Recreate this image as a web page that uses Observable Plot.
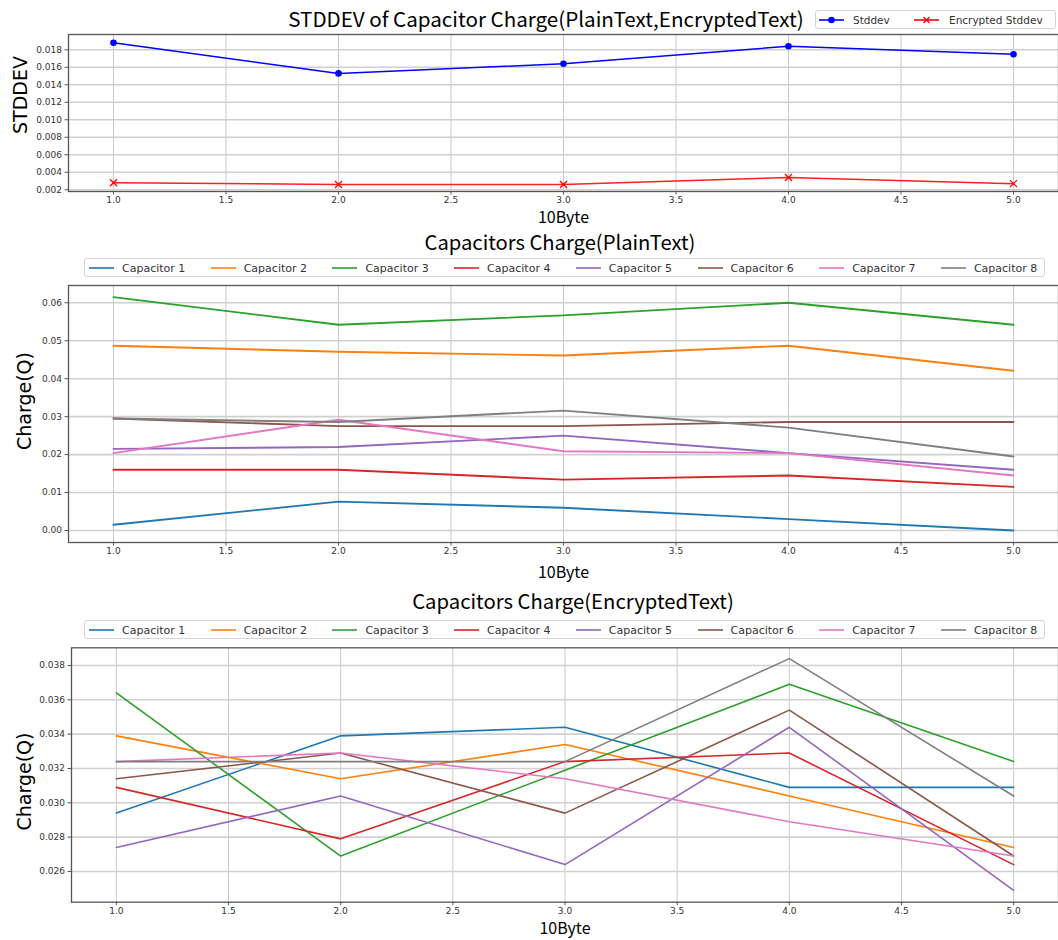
<!DOCTYPE html>
<html><head><meta charset="utf-8">
<script src="https://cdn.jsdelivr.net/npm/d3@7"></script>
<script src="https://cdn.jsdelivr.net/npm/@observablehq/plot@0.6"></script>
<style>
body{margin:0;background:#fff;}
#c{position:relative;width:1058px;height:940px;overflow:hidden;font-family:"DejaVu Sans",sans-serif;background:#fff;}
.t{position:absolute;font-family:"Noto Sans CJK KR","Noto Sans",sans-serif;font-size:20px;transform:translate(-50%,-50%);white-space:nowrap;color:#000;line-height:1;}
.lg{position:absolute;border:1px solid #d4d4d4;border-radius:3px;background:#fff;box-sizing:border-box;}
.it{position:absolute;top:50%;transform:translateY(-50%);font-size:11px;color:#333;white-space:nowrap;line-height:1;}
.sw{position:absolute;top:50%;transform:translateY(-50%);line-height:0;}
.p{position:absolute;left:0;}
</style></head>
<body><div id="c"></div>
<script>
// ---- data ----
const bytes = [1, 2, 3, 4, 5];
const xTicks = [1, 1.5, 2, 2.5, 3, 3.5, 4, 4.5, 5];

const stddev    = [0.0188, 0.0153, 0.0164, 0.0184, 0.0175];
const encStddev = [0.0028, 0.0026, 0.0026, 0.0034, 0.0027];
const stdTicks  = [0.002, 0.004, 0.006, 0.008, 0.010, 0.012, 0.014, 0.016, 0.018];

const capNames  = ["Capacitor 1","Capacitor 2","Capacitor 3","Capacitor 4","Capacitor 5","Capacitor 6","Capacitor 7","Capacitor 8"];
const capColors = ["#1f77b4","#ff7f0e","#2ca02c","#d62728","#9467bd","#8c564b","#e377c2","#7f7f7f"];

const plain1 = [0.0015, 0.0076, 0.0060, 0.0030, 0.0000];
const plain2 = [0.0487, 0.0471, 0.0461, 0.0487, 0.0421];
const plain3 = [0.0615, 0.0542, 0.0567, 0.0600, 0.0542];
const plain4 = [0.0160, 0.0160, 0.0134, 0.0145, 0.0115];
const plain5 = [0.0215, 0.0220, 0.0250, 0.0204, 0.0160];
const plain6 = [0.0295, 0.0275, 0.0275, 0.0286, 0.0286];
const plain7 = [0.0204, 0.0292, 0.0209, 0.0204, 0.0145];
const plain8 = [0.0295, 0.0286, 0.0316, 0.0271, 0.0195];
const plainTicks = [0.00, 0.01, 0.02, 0.03, 0.04, 0.05, 0.06];

const enc1 = [0.0294, 0.0339, 0.0344, 0.0309, 0.0309];
const enc2 = [0.0339, 0.0314, 0.0334, 0.0304, 0.0274];
const enc3 = [0.0364, 0.0269, 0.0319, 0.0369, 0.0324];
const enc4 = [0.0309, 0.0279, 0.0324, 0.0329, 0.0264];
const enc5 = [0.0274, 0.0304, 0.0264, 0.0344, 0.0249];
const enc6 = [0.0314, 0.0329, 0.0294, 0.0354, 0.0269];
const enc7 = [0.0324, 0.0329, 0.0314, 0.0289, 0.0269];
const enc8 = [0.0324, 0.0324, 0.0324, 0.0384, 0.0304];
const encTicks = [0.026, 0.028, 0.030, 0.032, 0.034, 0.036, 0.038];

// ---- helpers ----
const c = document.getElementById("c");
const stdRows = bytes.map((b, i) => ({byte: b, sd: stddev[i], enc: encStddev[i]}));
const toRows = (series) => series.flatMap((s, k) => bytes.map((b, i) => ({cap: capNames[k], byte: b, q: s[i]})));
const plainRows = toRows([plain1, plain2, plain3, plain4, plain5, plain6, plain7, plain8]);
const encRows = toRows([enc1, enc2, enc3, enc4, enc5, enc6, enc7, enc8]);

function panel({top, height, mt, mb, ml, yDomain, yTicks, yFmt, marks, ylabel, lx, ly, xlDy}) {
  const svg = Plot.plot({
    width: 1058, height,
    marginTop: mt, marginBottom: mb, marginLeft: ml, marginRight: 0,
    style: {fontFamily: "DejaVu Sans", fontSize: "9px", color: "#333", background: "transparent", overflow: "visible"},
    x: {domain: [0.8, 5.2]},
    y: {domain: yDomain},
    color: {domain: capNames, range: capColors},
    marks: [
      Plot.gridX(xTicks, {stroke: "#c9c9c9", strokeOpacity: 1, strokeWidth: 1}),
      Plot.gridY(yTicks, {stroke: "#d0d0d0", strokeOpacity: 1, strokeWidth: 1.6}),
      ...marks,
      Plot.frame({stroke: "#555", strokeWidth: 1.3}),
      Plot.axisX(xTicks, {tickFormat: d3.format(".1f"), tickSize: 3.5, tickPadding: 2, label: null, fontSize: 9, stroke: "#555"}),
      Plot.axisY(yTicks, {tickFormat: d3.format(yFmt), tickSize: 3.5, tickPadding: 3, label: null, fontSize: 9, stroke: "#555"}),
      Plot.text(["10Byte"], {text: d => d, frameAnchor: "bottom", dy: xlDy, lineAnchor: "middle", textAnchor: "middle", fontFamily: "Noto Sans CJK KR", fontSize: 16, fill: "#000"}),
      Plot.text([ylabel], {text: d => d, frameAnchor: "left", dx: lx, dy: ly, rotate: -90, textAnchor: "middle", lineAnchor: "middle", fontFamily: "DejaVu Sans", fontSize: 19, fill: "#000"})
    ]
  });
  svg.classList.add("p");
  svg.style.top = top + "px";
  c.appendChild(svg);
}

function title(text, x, y, size) {
  const d = document.createElement("div");
  d.className = "t"; d.textContent = text;
  d.style.left = x + "px"; d.style.top = y + "px";
  if (size) d.style.fontSize = size + "px";
  c.appendChild(d);
}

function swatch(color, marker) {
  let m = "";
  if (marker === "circle") m = `<circle cx="12.5" cy="5" r="3.3" fill="${color}"/>`;
  if (marker === "times") m = `<path d="M9.5 2 L15.5 8 M15.5 2 L9.5 8" stroke="${color}" stroke-width="1.3"/>`;
  return `<svg width="25" height="10"><line x1="0" y1="5" x2="25" y2="5" stroke="${color}" stroke-width="1.6"/>${m}</svg>`;
}

function legend(box, items) {
  const b = document.createElement("div");
  b.className = "lg";
  b.style.left = box[0] + "px"; b.style.top = box[1] + "px";
  b.style.width = (box[2] - box[0]) + "px"; b.style.height = (box[3] - box[1]) + "px";
  items.forEach(it => {
    const s = document.createElement("div");
    s.className = "sw"; s.style.left = (it.sx - box[0]) + "px";
    s.innerHTML = swatch(it.color, it.marker);
    b.appendChild(s);
    const t = document.createElement("div");
    t.className = "it"; t.style.left = (it.tx - box[0]) + "px";
    if (it.size) t.style.fontSize = it.size + "px";
    t.textContent = it.label;
    b.appendChild(t);
  });
  c.appendChild(b);
}

// ---- panel 1 ----
panel({
  top: 0, height: 230, mt: 34, mb: 39, ml: 68,
  yDomain: [0.0018, 0.01975], yTicks: stdTicks, yFmt: ".3f",
  ylabel: "STDDEV", lx: -48, ly: -18, xlDy: 26,
  marks: [
    Plot.line(stdRows, {x: "byte", y: "sd", stroke: "#0000ff", strokeWidth: 1.5}),
    Plot.dot(stdRows, {x: "byte", y: "sd", r: 3.3, fill: "#0000ff"}),
    Plot.line(stdRows, {x: "byte", y: "enc", stroke: "#ff2020", strokeWidth: 1.5}),
    Plot.dot(stdRows, {x: "byte", y: "enc", r: 3.3, symbol: "times", stroke: "#ff0000", strokeWidth: 1.3})
  ]
});
title("STDDEV of Capacitor Charge(PlainText,EncryptedText)", 546, 18, 20.6);
legend([815, 10, 1056, 29], [
  {label: "Stddev", color: "#0000ff", marker: "circle", sx: 818, tx: 852, size: 10.5},
  {label: "Encrypted Stddev", color: "#ff0000", marker: "times", sx: 913, tx: 948, size: 10.5}
]);

// ---- panel 2 ----
panel({
  top: 279, height: 300, mt: 6, mb: 37, ml: 68,
  yDomain: [-0.00316, 0.06456], yTicks: plainTicks, yFmt: ".2f",
  ylabel: "Charge(Q)", lx: -44, ly: -13, xlDy: 30,
  marks: [
    Plot.line(plainRows, {x: "byte", y: "q", z: "cap", stroke: "cap", strokeWidth: 1.9})
  ]
});
title("Capacitors Charge(PlainText)", 560, 242, 20.2);
legend([84, 258, 1045, 277], capNames.map((n, i) => ({label: n, color: capColors[i], sx: 88 + i * 121.7, tx: 121 + i * 121.7})));

// ---- panel 3 ----
panel({
  top: 640, height: 300, mt: 7.3, mb: 38.3, ml: 71,
  yDomain: [0.02421, 0.03903], yTicks: encTicks, yFmt: ".3f",
  ylabel: "Charge(Q)", lx: -47, ly: 6.5, xlDy: 26.5,
  marks: [
    Plot.line(encRows, {x: "byte", y: "q", z: "cap", stroke: "cap", strokeWidth: 1.6})
  ]
});
title("Capacitors Charge(EncryptedText)", 573, 600, 20.3);
legend([84, 620, 1045, 639], capNames.map((n, i) => ({label: n, color: capColors[i], sx: 88 + i * 121.7, tx: 121 + i * 121.7})));
</script>
</body></html>
